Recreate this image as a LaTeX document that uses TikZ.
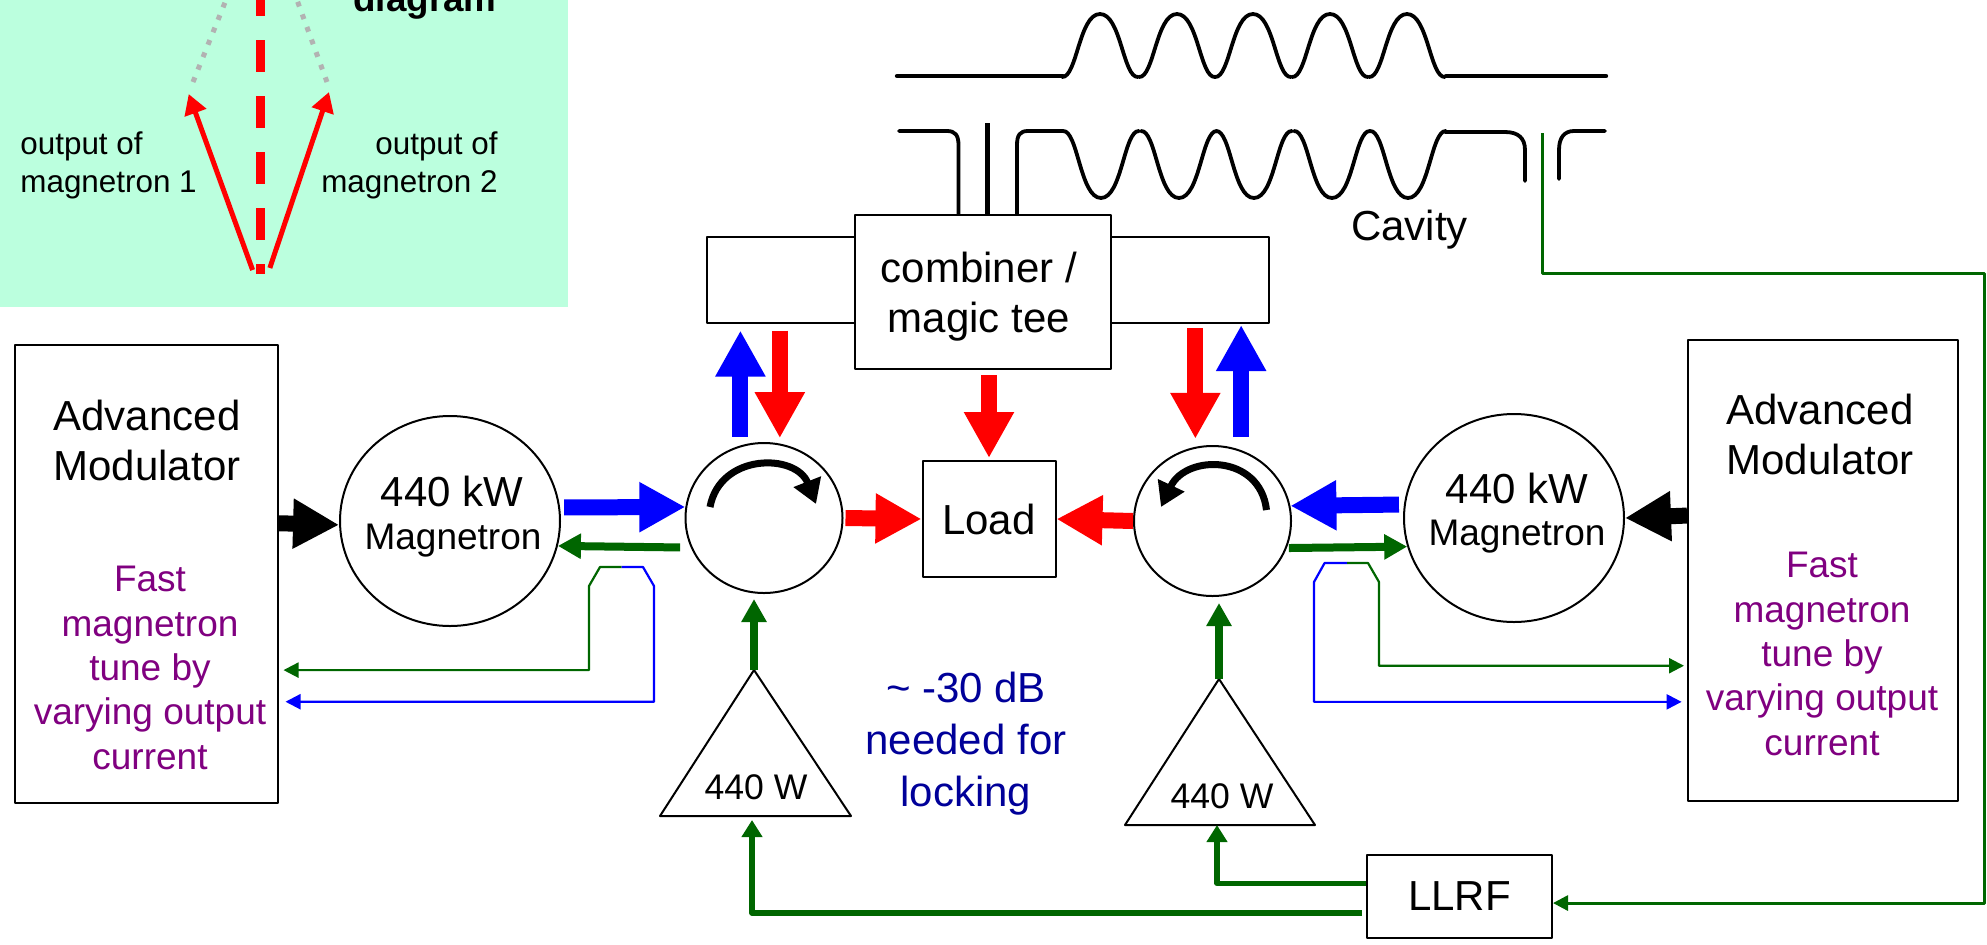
\documentclass[tikz,border=0pt]{standalone}
\usepackage{fontspec}
\setmainfont{Liberation Sans}
\usetikzlibrary{arrows.meta,shapes.geometric}
\definecolor{panelgreen}{HTML}{BBFFDE}
\definecolor{rfgreen}{HTML}{006600}
\definecolor{tunepurple}{HTML}{800080}
\definecolor{lockblue}{HTML}{000099}
\definecolor{dotgray}{HTML}{B2B2B2}
\tikzset{
  boxnode/.style={draw,line width=1pt,rectangle,inner sep=0pt,fill=white},
  ringnode/.style={draw,line width=1pt,ellipse,inner sep=0pt},
  bigtext/.style={font=\fontsize{21}{25}\selectfont,align=center,inner sep=0pt},
  midtext/.style={font=\fontsize{18.5}{22.2}\selectfont,align=center,inner sep=0pt},
  smalltext/.style={font=\fontsize{15.7}{19}\selectfont,inner sep=0pt},
  pwrarrow/.style={line width=8pt,-{Triangle[length=23pt,width=23.5pt]}},
  rfarrow/.style={rfgreen,line width=4pt,-{Triangle[length=11.5pt,width=12pt]}},
  drivearrow/.style={rfgreen,line width=2.6pt,-{Triangle[length=8.5pt,width=10pt]}},
  thinarrow/.style={line width=1.1pt,-{Triangle[length=7.5pt,width=7.5pt]}},
  turnarrow/.style={line width=3.5pt,-{Triangle[length=12pt,width=14pt]}},
  phasor/.style={red,line width=2.5pt,-{Triangle[length=10pt,width=11pt]}},
  cavline/.style={line width=1.9pt,line cap=round}
}
\begin{document}
\begin{tikzpicture}[x=0.5pt,y=-0.5pt,line join=round]
  \useasboundingbox (0,0) rectangle (1987,944);

  % phasor panel
  \fill[panelgreen] (0,0) rectangle (568,307);
  \draw[dotgray,line width=2.5pt,dash pattern=on 2.5pt off 4.2pt] (193,82) -- (226,0);
  \draw[dotgray,line width=2.5pt,dash pattern=on 2.5pt off 4.2pt] (327,82) -- (297,0);
  \draw[red,line width=4.25pt,dash pattern=on 16pt off 12pt,dash phase=8pt] (260.6,0) -- (260.6,274);
  \draw[phasor] (252.6,270) -- (188.7,94);
  \draw[phasor] (269.8,268) -- (329,92);
  \node[smalltext,align=left,anchor=west] (outputa) at (20,165) {output of\\magnetron 1};
  \node[smalltext,align=right,anchor=east] (outputb) at (498,165) {output of\\magnetron 2};
  \node[font=\fontsize{18.4}{22}\selectfont\bfseries,inner sep=0pt,anchor=base east] (phasorname) at (497,11) {diagram};

  % cavity
  \draw[cavline,line width=2.2pt] (897,76) -- (1063,76);
  \draw[cavline,line width=2.2pt] (1446,76) -- (1606,76);
  \foreach \p in {1100,1177,1253,1330,1407} {
    \draw[cavline] ({\p-38},77) .. controls ({\p-23},78) and ({\p-21},14) .. (\p,14)
      .. controls ({\p+21},14) and ({\p+23},78) .. ({\p+38},77);
  }
  \draw[cavline] (899,131) -- (947,131) .. controls (955,131) and (958.5,135) .. (958.5,145) -- (958.5,215);
  \draw[line width=2.5pt] (987.5,123) -- (987.5,215);
  \draw[cavline] (1017,215) -- (1017,145) .. controls (1017,135) and (1020,131) .. (1028,131) -- (1063,131);
  \foreach \p in {1101,1179,1254,1332,1408} {
    \draw[cavline] ({\p-38},131) .. controls ({\p-23},130) and ({\p-21},198) .. (\p,198)
      .. controls ({\p+21},198) and ({\p+23},130) .. ({\p+38},131);
  }
  \draw[cavline] (1445,132) -- (1505,132) .. controls (1518,132) and (1525,138) .. (1525,150) -- (1525,181);
  \draw[cavline] (1559,179) -- (1559,150) .. controls (1559,138) and (1564,131) .. (1574,131) -- (1605,131);
  \node[bigtext] (cavityname) at (1409.5,230) {Cavity};

  % boxes
  \node[boxnode,minimum width=280.75pt,minimum height=43pt] (sidebox) at (987.75,280) {};
  \node[boxnode,minimum width=128pt,minimum height=77pt] (combiner) at (983,292) {};
  \node[bigtext] (combinername) at (979,297) {combiner /\\magic tee};
  \node[boxnode,minimum width=66.5pt,minimum height=58pt,bigtext,inner sep=0pt] (load) at (989,519) {Load};
  \node[boxnode,minimum width=92.5pt,minimum height=41.5pt,bigtext,inner sep=0pt] (llrf) at (1459.5,896.5) {LLRF};
  \node[boxnode,minimum width=131.25pt,minimum height=229pt] (leftmod) at (146.25,574) {};
  \node[boxnode,minimum width=135pt,minimum height=230.5pt] (rightmod) at (1823,570.5) {};
  \node[bigtext] (leftmodname) at (147,440) {Advanced\\Modulator};
  \node[bigtext] (rightmodname) at (1820,434) {Advanced\\Modulator};
  \node[midtext,text=tunepurple] (lefttune) at (150,668) {Fast\\magnetron\\tune by\\varying output\\current};
  \node[midtext,text=tunepurple] (righttune) at (1822,654) {Fast\\magnetron\\tune by\\varying output\\current};

  % magnetrons and circulators
  \node[ringnode,minimum width=110pt,minimum height=105pt] (leftmag) at (450,521) {};
  \node[ringnode,minimum width=110pt,minimum height=104pt] (rightmag) at (1514,518) {};
  \node[ringnode,minimum width=78.5pt,minimum height=75pt] (leftcirc) at (764,518) {};
  \node[ringnode,minimum width=78.5pt,minimum height=75pt] (rightcirc) at (1212.5,521) {};
  \node[bigtext] (leftmagkw) at (452,491) {440 kW};
  \node[midtext] (leftmagname) at (453,541) {Magnetron};
  \node[bigtext] (rightmagkw) at (1517,488) {440 kW};
  \node[midtext] (rightmagname) at (1517,537) {Magnetron};
  \draw[turnarrow] (710,507) .. controls (720,453) and (796,453) .. (816,504);
  \draw[turnarrow] (1266.5,510) .. controls (1260,454) and (1186,454) .. (1161,507);

  % amplifiers
  \coordinate (leftamp) at (754,670);
  \coordinate (rightamp) at (1219,679);
  \coordinate (leftampin) at (752,816);
  \coordinate (rightampin) at (1217,825);
  \draw[line width=1pt] (leftamp) -- (851,816) -- (660,816) -- cycle;
  \draw[line width=1pt] (rightamp) -- (1315,825) -- (1125,825) -- cycle;
  \node[midtext,font=\fontsize{17.8}{22}\selectfont] (leftampname) at (756,787) {440 W};
  \node[midtext,font=\fontsize{17.8}{22}\selectfont] (rightampname) at (1222,796) {440 W};
  \node[font=\fontsize{21}{26}\selectfont,align=center,inner sep=0pt,text=lockblue] (lockname) at (966,744) {\textasciitilde{} -30 dB\\needed for\\locking};

  % high power arrows
  \draw[pwrarrow] (leftmod.21) -- (leftmag.182);
  \draw[pwrarrow] (rightmod.158.75) -- (rightmag.east);
  \draw[pwrarrow,blue,shorten <=2pt] (leftmag.7) -- (leftcirc.172);
  \draw[pwrarrow,blue,shorten <=2.5pt] (rightmag.173.2) -- (rightcirc.11.8);
  \draw[pwrarrow,red,shorten <=1pt] (leftcirc.east) -- (load.west);
  \draw[pwrarrow,red] (rightcirc.west) -- (load.east);
  \draw[pwrarrow,blue,shorten <=4.3pt,shorten >=3.25pt] (leftcirc.108.6) -- (leftcirc.108.6 |- sidebox.south);
  \draw[pwrarrow,red,shorten <=3.25pt,shorten >=2.7pt] (leftcirc.78.5 |- sidebox.south) -- (leftcirc.78.5);
  \draw[pwrarrow,red,shorten <=2pt,shorten >=4pt] (rightcirc.103.9 |- sidebox.south) -- (rightcirc.103.9);
  \draw[pwrarrow,blue,shorten <=6.5pt,shorten >=0.5pt] (rightcirc.68.1) -- (rightcirc.68.1 |- sidebox.south);
  \draw[pwrarrow,red,shorten <=2.5pt,shorten >=1pt] (load.north |- combiner.south) -- (load.north);

  % rf drive arrows
  \draw[rfarrow,shorten <=5.3pt] (leftcirc.202) -- (leftmag.-13.7);
  \draw[rfarrow,shorten <=1pt] (rightcirc.-20.2) -- (rightmag.195.9);
  \draw[rfarrow,shorten >=2.5pt] (leftamp) -- (leftamp |- leftcirc.south);
  \draw[rfarrow,shorten >=3pt] (rightamp) -- (rightamp |- rightcirc.south);
  \draw[drivearrow,shorten <=2pt,shorten >=2pt] (llrf.190.7) -| (leftampin);
  \draw[drivearrow] (llrf.172.3) -| (rightampin);

  % feedback lines
  \coordinate (probe) at (1542,133);
  \coordinate (leftapp) at (621.6,567);
  \coordinate (rightapp) at (1347,563);
  \draw[rfgreen,line width=1.5pt,-{Triangle[length=7.5pt,width=7.5pt]}] (probe) |- (1984,273) |- (llrf.-4);
  \draw[thinarrow,rfgreen,shorten >=2.5pt] (leftapp) -- (600,567) -- (589,586) |- (leftmod.-36.47);
  \draw[thinarrow,blue,shorten >=3.5pt] (leftapp) -- (643,567) -- (654,586) |- (leftmod.-44.95);
  \draw[thinarrow,blue,shorten >=2.7pt] (rightapp) -- (1324.6,563) -- (1314,582) |- (rightmod.224.25);
  \draw[thinarrow,rfgreen,shorten >=1.5pt] (rightapp) -- (1368,563) -- (1379,582) |- (rightmod.215.6);
\end{tikzpicture}
\end{document}
